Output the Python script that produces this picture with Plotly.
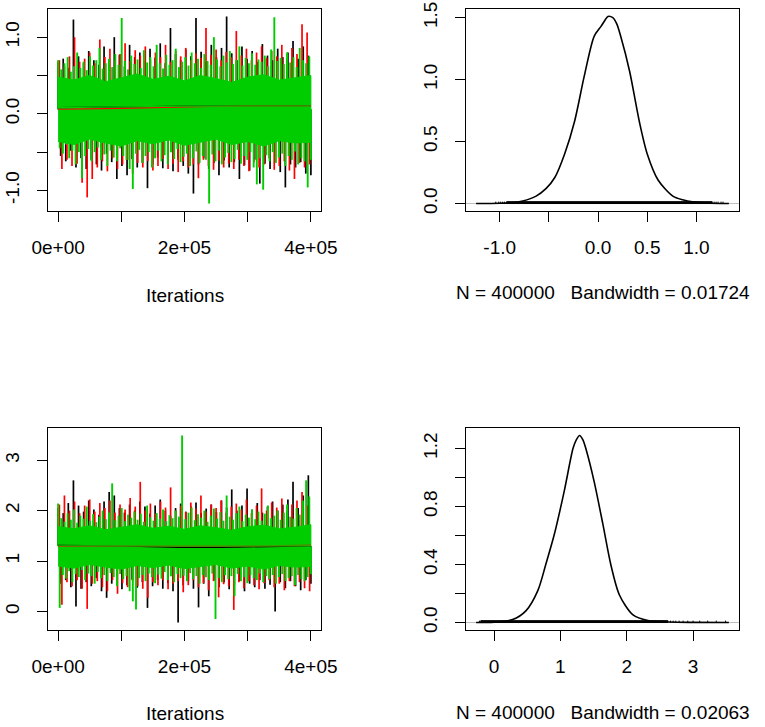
import numpy as np
import plotly.graph_objects as go

# ---------------- data ----------------
N_ITER = 400000
iter_ticks = [0, 100000, 200000, 300000, 400000]
iter_ticktext = ["0e+00", "", "2e+05", "", "4e+05"]

# Parameter 1 trace (values alternate upper / lower excursions)
a_black = [0.68, -0.55, 0.72, -0.62, 0.60, -0.48, 1.23, -0.70, 0.75, -0.58,
           0.66, -0.72, 0.82, -0.60, 0.70, -0.66, 0.64, -0.74, 0.88, -0.52,
           0.71, -0.63, 1.00, -0.85, 0.77, -0.68, 0.62, -0.80, 0.90, -0.59,
           0.74, -0.70, 0.80, -0.64, 0.69, -0.97, 0.85, -0.66, 0.73, -0.57,
           0.92, -0.71, 0.66, -0.62, 1.12, -0.75, 0.78, -0.60, 0.70, -0.68,
           0.84, -0.78, 0.75, -1.04, 1.25, -0.66, 0.81, -0.58, 0.68, -0.72,
           0.90, -0.64, 0.74, -0.80, 0.86, -0.61, 1.27, -0.70, 0.79, -0.63,
           0.70, -0.85, 0.88, -0.67, 0.72, -0.74, 0.82, -0.60, 0.68, -0.91,
           0.91, -0.65, 0.76, -0.72, 0.70, -0.62, 0.85, -0.76, 0.74, -0.96,
           0.80, -0.66, 0.95, -0.70, 0.72, -0.63, 0.88, -0.78, 0.76, -0.80]
a_red = [0.70, -0.72, 0.62, -0.60, 0.75, -0.68, 1.00, -0.65, 0.68, -0.90,
         0.72, -1.09, 0.80, -0.85, 0.66, -0.70, 0.97, -0.62, 0.74, -0.75,
         0.85, -0.58, 0.70, -0.72, 0.78, -0.66, 0.92, -0.60, 0.69, -0.78,
         0.83, -0.64, 0.76, -0.70, 0.88, -0.62, 0.71, -0.74, 0.80, -0.68,
         0.74, -0.59, 0.90, -0.72, 0.68, -0.65, 0.82, -0.76, 0.75, -0.62,
         0.86, -0.70, 0.70, -0.66, 0.79, -0.84, 0.73, -0.60, 1.12, -0.68,
         0.77, -0.73, 0.84, -0.61, 0.70, -0.70, 0.81, -0.65, 0.74, -0.72,
         1.08, -0.60, 0.76, -0.68, 0.85, -0.75, 0.70, -0.63, 0.80, -0.70,
         0.88, -0.66, 0.73, -0.58, 0.82, -0.73, 0.75, -0.68, 0.90, -0.62,
         0.72, -0.74, 0.86, -0.85, 0.78, -0.64, 1.17, -0.70, 1.06, -0.66]
a_green = [0.70, -0.45, 0.58, -0.52, 0.66, -0.40, 0.74, -0.58, 0.55, -0.48,
           0.62, -0.66, 0.80, -0.50, 0.60, -0.84, 0.68, -0.55, 0.57, -0.46,
           0.75, -0.62, 0.63, -0.50, 0.70, -0.44, 0.86, -0.60, 0.59, -0.53,
           0.66, -0.68, 0.72, -0.48, 0.61, -0.57, 0.78, -0.62, 0.64, -0.45,
           1.25, -0.55, 0.69, -0.60, 0.58, -0.72, 0.76, -0.98, 0.65, -0.52,
           0.71, -0.47, 0.60, -0.64, 0.83, -0.55, 0.67, -0.50, 0.74, -0.70,
           0.62, -0.58, 0.90, -0.48, 0.66, -0.62, 0.59, -0.54, 0.77, -0.66,
           0.64, -0.50, 0.70, -0.59, 0.85, -0.46, 0.61, -0.63, 0.68, -0.56,
           0.74, -0.52, 0.63, -0.68, 0.80, -0.58, 0.66, -0.49, 0.72, -0.64,
           0.60, -0.55, 0.78, -0.60, 0.69, -1.17, 0.64, -0.53, 1.00, -0.62,
           0.71, -0.48, 0.62, -0.66, 0.76, -0.57, 0.67, -0.51, 0.82, -0.63,
           0.65, -0.59, 0.70, -0.47, 0.88, -0.65, 0.63, -0.55, 0.73, -0.60,
           0.66, -0.50, 0.79, -0.70, 0.64, -0.92, 0.71, -0.58, 0.68, -0.99,
           0.76, -0.54, 0.62, -0.62, 0.84, -0.50, 1.26, -0.64, 0.69, -0.57,
           0.73, -0.52, 0.65, -0.68, 0.80, -0.55, 0.67, -0.60, 0.74, -0.49,
           0.61, -0.66, 0.86, -0.58, 0.70, -0.62, 0.66, -0.96, 0.75, -0.60]
# dense central range of the green chain (solid green in the picture)
core_iter = [0, 25000, 50000, 75000, 100000, 125000, 150000, 175000, 200000,
             225000, 250000, 275000, 300000, 325000, 350000, 375000, 400000]
a_core_hi = [0.48, 0.44, 0.50, 0.42, 0.47, 0.52, 0.45, 0.49, 0.43,
             0.50, 0.46, 0.41, 0.48, 0.51, 0.44, 0.47, 0.50]
a_core_lo = [-0.36, -0.40, -0.33, -0.38, -0.42, -0.35, -0.39, -0.34, -0.41,
             -0.37, -0.33, -0.40, -0.36, -0.42, -0.35, -0.38, -0.37]

# running (lowess) means, parameter 1
smooth_iter = [0, 100000, 200000, 300000, 400000]
a_smooth_black = [0.08, 0.09, 0.10, 0.10, 0.10]
a_smooth_red = [0.06, 0.07, 0.09, 0.10, 0.10]
a_smooth_green = [0.08, 0.09, 0.10, 0.10, 0.10]

# Parameter 2 trace
b_black = [2.05, 0.55, 1.95, 0.62, 2.15, 0.48, 2.60, 0.10, 2.10, 0.45,
           1.98, 0.58, 2.20, 0.50, 2.02, 0.66, 1.92, 0.40, 2.18, 0.27,
           2.37, 0.55, 2.30, 0.60, 2.05, 0.44, 1.96, 0.52, 2.12, 0.63,
           2.00, 0.47, 2.18, 0.58, 2.08, 0.07, 1.94, 0.50, 2.10, 0.62,
           2.22, 0.45, 2.00, 0.56, 1.90, 0.40, 2.05, -0.22, 2.14, 0.52,
           1.98, 0.60, 2.08, 0.45, 2.16, 0.08, 1.95, 0.55, 2.04, 0.30,
           2.12, 0.62, 1.97, 0.48, 2.20, 0.58, 2.06, 0.44, 2.42, 0.52,
           2.00, 0.60, 2.10, 0.40, 2.44, 0.55, 2.02, 0.48, 2.15, 0.62,
           1.96, 0.45, 2.08, 0.53, 2.18, 0.00, 2.00, 0.58, 2.12, 0.46,
           2.22, 0.60, 2.57, 0.50, 2.05, 0.42, 2.30, 0.62, 2.70, 0.55]
b_red = [2.12, 0.13, 2.30, 0.58, 2.00, 0.50, 2.18, 0.62, 1.95, 0.45,
         2.10, 0.05, 2.22, 0.55, 1.98, 0.60, 2.15, 0.48, 2.05, 0.40,
         2.20, 0.62, 1.96, 0.35, 2.12, 0.56, 2.02, 0.48, 2.25, 0.60,
         2.08, 0.50, 2.57, 0.45, 2.00, 0.27, 2.14, 0.58, 1.94, 0.52,
         2.18, 0.62, 2.06, 0.44, 2.46, 0.55, 2.00, 0.60, 2.10, 0.38,
         1.97, 0.52, 2.16, 0.62, 2.04, 0.48, 2.30, 0.56, 1.98, 0.42,
         2.12, 0.60, 2.05, 0.28, 2.20, 0.54, 1.96, 0.50, 2.08, 0.03,
         2.14, 0.58, 2.02, 0.46, 2.22, 0.60, 1.95, 0.52, 2.10, 0.44,
         2.44, 0.56, 2.00, 0.62, 2.16, 0.48, 2.06, 0.55, 2.24, 0.42,
         1.98, 0.60, 2.12, 0.50, 2.20, 0.58, 2.37, 0.46, 2.10, 0.40]
b_green = [2.14, 0.07, 1.85, 0.72, 1.78, 0.65, 1.95, 0.80, 1.82, 0.58,
           2.02, 0.74, 1.76, 0.68, 1.90, 0.82, 1.84, 0.62, 2.08, 0.75,
           1.80, 0.70, 1.93, 0.55, 1.77, 0.78, 1.88, 0.66, 2.00, 0.72,
           1.83, 0.60, 1.96, 0.76, 2.54, 0.68, 1.81, 0.50, 1.90, 0.74,
           2.05, 0.64, 1.79, 0.70, 1.92, 0.40, 1.86, 0.20, 1.98, 0.04,
           1.82, 0.66, 1.94, 0.72, 1.78, 0.60, 2.10, 0.75, 1.87, 0.68,
           1.80, 0.56, 1.95, 0.73, 1.84, 0.65, 2.02, 0.78, 1.79, 0.62,
           1.91, 0.70, 1.85, 0.58, 2.00, 0.74, 1.88, 0.66, 3.49, 0.71,
           1.83, 0.60, 1.96, 0.76, 2.06, 0.64, 1.81, 0.70, 1.93, 0.55,
           1.86, 0.72, 2.00, 0.68, 1.78, 0.62, 1.90, 0.75, 2.04, -0.15,
           1.84, 0.66, 1.97, 0.58, 1.80, 0.72, 2.30, 0.64, 1.88, 0.70,
           1.82, 0.30, 1.95, 0.74, 2.08, 0.60, 1.79, 0.68, 1.92, 0.56,
           1.86, 0.72, 2.02, 0.66, 1.83, 0.62, 1.98, 0.75, 1.80, 0.58,
           1.94, 0.70, 2.10, 0.64, 1.85, 0.72, 1.90, 0.55, 2.00, 0.68,
           1.82, 0.74, 1.96, 0.60, 2.12, 0.66, 1.88, 0.70, 1.84, 0.52,
           2.05, 0.72, 1.92, 0.64, 2.20, 0.60, 2.60, 0.68, 2.28, 0.74]
b_core_hi = [1.68, 1.64, 1.70, 1.62, 1.67, 1.72, 1.65, 1.69, 1.63,
             1.70, 1.66, 1.61, 1.68, 1.71, 1.64, 1.67, 1.72]
b_core_lo = [0.90, 0.86, 0.93, 0.88, 0.84, 0.91, 0.87, 0.92, 0.85,
             0.89, 0.93, 0.86, 0.90, 0.84, 0.91, 0.88, 0.89]
b_smooth_black = [1.31, 1.30, 1.27, 1.28, 1.30]
b_smooth_red = [1.29, 1.30, 1.30, 1.30, 1.31]
b_smooth_green = [1.30, 1.30, 1.30, 1.30, 1.30]

# Density of parameter 1
dens_a_x = [-1.24, -1.00, -0.85, -0.765, -0.63, -0.53, -0.44, -0.34, -0.24, -0.14,
            -0.04, 0.03, 0.07, 0.10, 0.15, 0.19, 0.23, 0.32, 0.42, 0.50,
            0.61, 0.76, 0.86, 0.96, 1.10, 1.33]
dens_a_y = [0.0, 0.002, 0.008, 0.02, 0.06, 0.12, 0.21, 0.40, 0.66, 1.03,
            1.35, 1.43, 1.48, 1.51, 1.50, 1.45, 1.35, 1.07, 0.66, 0.40,
            0.19, 0.06, 0.03, 0.013, 0.004, 0.0]
rug_a_dense = [-0.93, 1.16]
rug_a_sparse = [-1.04, -1.01, -0.99, -0.97, -0.95, 1.18, 1.20, 1.22, 1.25, 1.27]
dens_a_label = "N = 400000   Bandwidth = 0.01724"

# Density of parameter 2
dens_b_x = [-0.27, 0.00, 0.28, 0.48, 0.66, 0.78, 0.91, 1.06, 1.19, 1.24,
            1.29, 1.34, 1.39, 1.51, 1.64, 1.76, 1.89, 2.09, 2.32, 2.64,
            3.00, 3.54]
dens_b_y = [0.0, 0.003, 0.02, 0.08, 0.22, 0.40, 0.61, 0.91, 1.20, 1.26,
            1.29, 1.26, 1.19, 0.97, 0.68, 0.40, 0.19, 0.055, 0.014, 0.004,
            0.001, 0.0]
rug_b_dense = [-0.20, 2.62]
rug_b_sparse = [-0.22, 2.66, 2.70, 2.74, 2.79, 2.85, 2.92, 3.00, 3.10, 3.22, 3.35, 3.49]
dens_b_label = "N = 400000   Bandwidth = 0.02063"

COL_BLACK = "#000000"
COL_RED = "#FF0000"
COL_GREEN = "#00CD00"
FONT = "Liberation Sans, Arial, sans-serif"

# ---------------- figure ----------------
W, H = 765, 727
fig = go.Figure()


def r_range(vals):
    lo, hi = min(vals), max(vals)
    ext = 0.04 * (hi - lo)
    return [lo - ext, hi + ext]


def strokes(xs, vals):
    """vertical excursion of each sample from the chain mean"""
    base = float(np.mean(vals))
    sx, sy = [], []
    for x, v in zip(xs, vals):
        sx += [x, x, None]
        sy += [base, v, None]
    return sx, sy


def add_trace_panel(xa, ya, black, red, green, core_hi, core_lo, sb, sr, sg):
    xb = np.linspace(0, N_ITER, len(black))
    xr = np.linspace(2000, N_ITER - 2000, len(red))
    xg = np.linspace(0, N_ITER, len(green))
    for xs, vs, col in [(xb, black, COL_BLACK), (xr, red, COL_RED)]:
        sx, sy = strokes(xs, vs)
        fig.add_trace(go.Scatter(x=sx, y=sy, mode="lines", xaxis=xa, yaxis=ya,
                                 line=dict(color=col, width=1.7, simplify=False),
                                 showlegend=False, hoverinfo="skip"))
    # dense central green region
    fig.add_trace(go.Scatter(x=core_iter + core_iter[::-1], y=core_hi + core_lo[::-1],
                             mode="lines", fill="toself", fillcolor=COL_GREEN,
                             line=dict(color=COL_GREEN, width=1), xaxis=xa, yaxis=ya,
                             showlegend=False, hoverinfo="skip"))
    sx, sy = strokes(xg, green)
    fig.add_trace(go.Scatter(x=sx, y=sy, mode="lines", xaxis=xa, yaxis=ya,
                             line=dict(color=COL_GREEN, width=1.9, simplify=False),
                             showlegend=False, hoverinfo="skip"))
    for vs, col in [(sb, COL_BLACK), (sr, COL_RED), (sg, COL_GREEN)]:
        fig.add_trace(go.Scatter(x=smooth_iter, y=vs, mode="lines", xaxis=xa, yaxis=ya,
                                 line=dict(color=col, width=1.2, shape="spline"),
                                 showlegend=False, hoverinfo="skip"))


def add_density_panel(xa, ya, dx, dy, dense, sparse):
    h = max(dy) / 100.0
    fig.add_trace(go.Scatter(x=[dense[0], dense[1], dense[1], dense[0], dense[0]],
                             y=[0, 0, h, h, 0], mode="lines", fill="toself",
                             fillcolor="black", line=dict(color="black", width=1),
                             xaxis=xa, yaxis=ya, showlegend=False, hoverinfo="skip"))
    rx, ry = [], []
    for v in sparse:
        rx += [v, v, None]
        ry += [0, h, None]
    fig.add_trace(go.Scatter(x=rx, y=ry, mode="lines", line=dict(color="black", width=1),
                             xaxis=xa, yaxis=ya, showlegend=False, hoverinfo="skip"))
    fig.add_trace(go.Scatter(x=dx, y=dy, mode="lines",
                             line=dict(color="black", width=1.6, shape="spline", smoothing=0.8),
                             xaxis=xa, yaxis=ya, showlegend=False, hoverinfo="skip"))


add_trace_panel("x", "y", a_black, a_red, a_green, a_core_hi, a_core_lo,
                a_smooth_black, a_smooth_red, a_smooth_green)
add_density_panel("x2", "y2", dens_a_x, dens_a_y, rug_a_dense, rug_a_sparse)
add_trace_panel("x3", "y3", b_black, b_red, b_green, b_core_hi, b_core_lo,
                b_smooth_black, b_smooth_red, b_smooth_green)
add_density_panel("x4", "y4", dens_b_x, dens_b_y, rug_b_dense, rug_b_sparse)

# panel boxes in pixels (left, right, top, bottom)
boxes = {1: (48, 321, 9, 211), 2: (466, 739, 9, 211), 3: (48, 321, 428, 630), 4: (466, 739, 428, 630)}


def dom(b):
    l, r, t, btm = b
    return [l / W, r / W], [1 - btm / H, 1 - t / H]


axis_common = dict(showline=True, mirror=True, linecolor="black", linewidth=1.3,
                   showgrid=False, zeroline=False, ticks="outside", ticklen=10,
                   tickwidth=1.3, tickcolor="black", automargin=False,
                   tickfont=dict(family=FONT, size=19, color="black"))

trace_all_a = a_black + a_red + a_green
trace_all_b = b_black + b_red + b_green

specs = {
    1: dict(xr=r_range([0, N_ITER]), yr=r_range(trace_all_a),
            xt=(iter_ticks, iter_ticktext),
            yt=([-1, -0.5, 0, 0.5, 1], ["-1.0", "", "0.0", "", "1.0"])),
    2: dict(xr=r_range(dens_a_x), yr=r_range(dens_a_y),
            xt=([-1, -0.5, 0, 0.5, 1], ["-1.0", "", "0.0", "0.5", "1.0"]),
            yt=([0, 0.5, 1, 1.5], ["0.0", "0.5", "1.0", "1.5"])),
    3: dict(xr=r_range([0, N_ITER]), yr=r_range(trace_all_b),
            xt=(iter_ticks, iter_ticktext),
            yt=([0, 1, 2, 3], ["0", "1", "2", "3"])),
    4: dict(xr=r_range(dens_b_x), yr=r_range(dens_b_y),
            xt=([0, 1, 2, 3], ["0", "1", "2", "3"]),
            yt=([0, 0.2, 0.4, 0.6, 0.8, 1.0, 1.2], ["0.0", "", "0.4", "", "0.8", "", "1.2"])),
}

layout = dict(template="none", width=W, height=H, margin=dict(l=0, r=0, t=0, b=0, pad=0),
              paper_bgcolor="white", plot_bgcolor="white", showlegend=False)
for k in range(1, 5):
    xd, yd = dom(boxes[k])
    sfx = "" if k == 1 else str(k)
    s = specs[k]
    layout["xaxis" + sfx] = dict(axis_common, domain=xd, range=s["xr"], anchor="y" + sfx,
                                 tickvals=s["xt"][0], ticktext=s["xt"][1],
                                 ticklabelstandoff=9)
    layout["yaxis" + sfx] = dict(axis_common, domain=yd, range=s["yr"], anchor="x" + sfx,
                                 tickvals=s["yt"][0], ticktext=s["yt"][1], tickangle=-90,
                                 ticklabelstandoff=10)
fig.update_layout(**layout)

# zero lines of the density plots
for k in (2, 4):
    fig.add_shape(type="line", xref="x%d domain" % k, yref="y%d" % k, x0=0, x1=1, y0=0, y1=0,
                  line=dict(color="#BEBEBE", width=1), layer="below")

# axis titles
titles = [("Iterations", 1, 295), (dens_a_label, 2, 293), ("Iterations", 3, 713), (dens_b_label, 4, 712)]
for txt, k, py in titles:
    l, r, t, b = boxes[k]
    fig.add_annotation(text=txt.replace(" ", "\u00a0"), xref="paper", yref="paper",
                       x=(l + r) / 2 / W, y=1 - py / H, xanchor="center", yanchor="middle",
                       showarrow=False, font=dict(family=FONT, size=19, color="black"))

fig.write_html("out.html", config={"displayModeBar": False},
               post_script="document.body.style.margin='0';")
